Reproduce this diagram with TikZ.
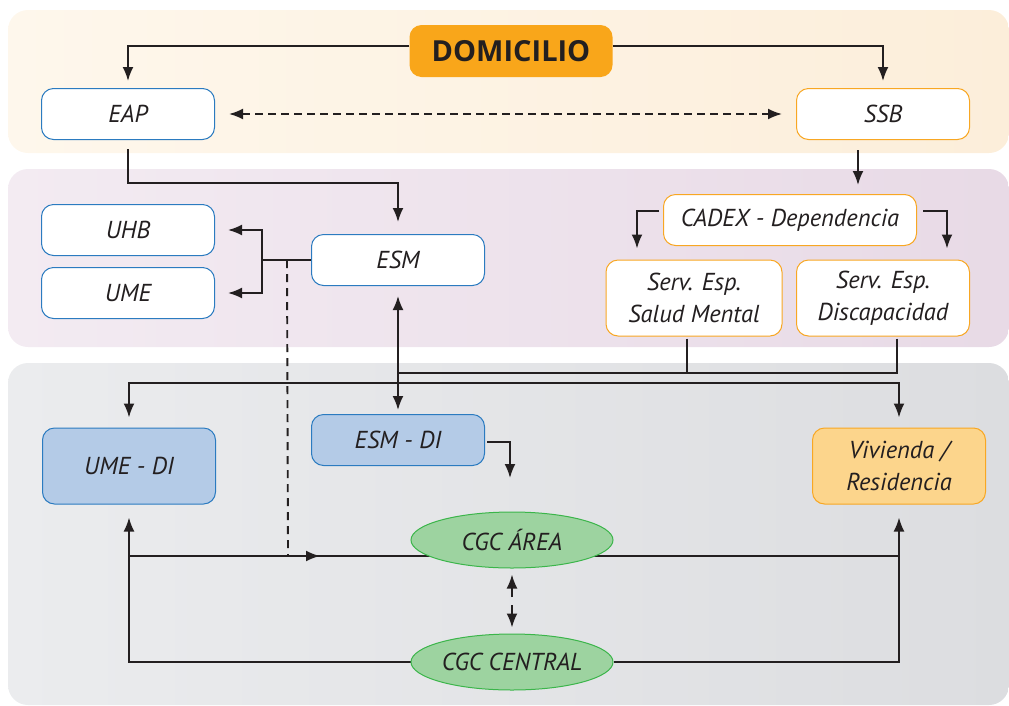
\documentclass[tikz,border=0pt]{standalone}
\usepackage{fontspec}
\setmainfont{PT Sans}
\newfontfamily\domifont{Open Sans}
\usepackage{xcolor}
\usetikzlibrary{arrows.meta, calc, backgrounds, shapes.geometric}

\definecolor{ink}{HTML}{231F20}
\definecolor{boxblue}{HTML}{2B7BC0}
\definecolor{fillblue}{HTML}{B4CBE7}
\definecolor{boxorange}{HTML}{F8A723}
\definecolor{fillorange}{HTML}{FCD58C}
\definecolor{domorange}{HTML}{F9A61A}
\definecolor{ellgreen}{HTML}{3BB54A}
\definecolor{fillgreen}{HTML}{9DD3A0}
\definecolor{bandtopl}{HTML}{FEF7EC}
\definecolor{bandtopr}{HTML}{FCEEDA}
\definecolor{bandmidl}{HTML}{F3EBF2}
\definecolor{bandmidr}{HTML}{E8DAE6}
\definecolor{bandbotl}{HTML}{EBECEE}
\definecolor{bandbotr}{HTML}{DCDDE0}

\tikzset{
    box/.style={draw=boxblue, fill=white, line width=1pt, rounded corners=12pt,
        minimum width=173pt, minimum height=51pt, inner sep=2pt, align=center,
        text=ink, font=\itshape\fontsize{24.5}{32}\selectfont},
    orangebox/.style={box, draw=boxorange},
    dibox/.style={box, fill=fillblue},
    domibox/.style={fill=domorange, rounded corners=12pt, minimum width=203pt,
        minimum height=52pt, text=ink, font=\domifont\bfseries\fontsize{29}{34}\selectfont},
    cgc/.style={ellipse, draw=ellgreen, fill=fillgreen, line width=1pt,
        minimum width=202pt, minimum height=56pt, inner sep=0pt, text=ink,
        font=\itshape\fontsize{24.5}{30}\selectfont},
    link/.style={draw=ink, line width=1.9pt},
    arr/.style={link, -{Latex[length=14pt,width=11pt]}},
    twoway/.style={link, {Latex[length=14pt,width=11pt]}-{Latex[length=14pt,width=11pt]}},
}

\begin{document}
\begin{tikzpicture}[x=1pt, y=-1pt]
    \useasboundingbox (0,0) rectangle (1009,705);
    \begin{scope}[on background layer]
        \shade[rounded corners=20pt, left color=bandtopl, right color=bandtopr] (8,10) rectangle (1009,153);
        \shade[rounded corners=20pt, left color=bandmidl, right color=bandmidr] (8,169) rectangle (1009,347);
        \shade[rounded corners=20pt, left color=bandbotl, right color=bandbotr] (8,363) rectangle (1009,705);
    \end{scope}

    \node[domibox] (domicilio) at (511,51) {DOMICILIO};
    \node[box] (eap) at (128,114) {EAP};
    \node[orangebox] (ssb) at (883,114) {SSB};
    \node[box] (uhb) at (128,230) {UHB};
    \node[box] (ume) at (128,293) {UME};
    \node[box] (esm) at (398,260) {ESM};
    \node[orangebox, minimum width=253pt] (cadex) at (790,220) {CADEX - Dependencia};
    \node[orangebox, minimum width=176pt, minimum height=76pt] (salud) at (694,298) {Serv. Esp.\\Salud Mental};
    \node[orangebox, minimum height=76pt] (discap) at (883,298) {Serv. Esp.\\Discapacidad};
    \node[dibox, minimum height=76pt] (umedi) at (129,466) {UME - DI};
    \node[dibox] (esmdi) at (398,440) {ESM - DI};
    \node[orangebox, fill=fillorange, minimum height=76pt] (vivienda) at (899,466) {Vivienda /\\Residencia};
    \node[cgc] (area) at (512,540) {CGC ÁREA};
    \node[cgc] (central) at (512,662) {CGC CENTRAL};

    \coordinate (busa) at (398,373);
    \coordinate (busb) at (398,383);
    \coordinate (dashend) at (288,556);
    \coordinate (arealine) at ([yshift=-16pt]area.center);

    \begin{scope}[on background layer]
        \draw[arr, shorten >=7pt] ($(domicilio.west)+(0,-5)$) -| (eap.north);
        \draw[arr, shorten >=7pt] ($(domicilio.east)+(0,-5)$) -| (ssb.north);
        \draw[twoway, dash pattern=on 8pt off 5pt, shorten <=14pt, shorten >=14pt] (eap.east) -- (ssb.west);
        \draw[arr, shorten <=9pt, shorten >=12pt] (eap.south) -- ++(0,43) -| (esm.north);
        \draw[arr, shorten <=10pt, shorten >=9pt] ([xshift=-25pt]ssb.south) -- ([xshift=68pt]cadex.north);
        \draw[arr, shorten <=4pt, shorten >=11pt] ([yshift=9pt]cadex.west) -| ([xshift=-57pt]salud.north);
        \draw[arr, shorten <=6pt, shorten >=11pt] ([yshift=9pt]cadex.east) -| ([xshift=64pt]discap.north);
        \draw[arr, shorten >=13pt] (esm.west) -- ++(-49,0) |- (uhb.east);
        \draw[arr, shorten >=13pt] (esm.west) -- ++(-49,0) |- (ume.east);
        \draw[link, dash pattern=on 8pt off 6pt] ($(esm.west)+(-24,0)$) -- (dashend);
        \draw[twoway, shorten <=10pt, shorten >=4pt] (esm.south) -- (esmdi.north);
        \draw[link, shorten <=2pt] ([xshift=-7pt]salud.south) |- (busa);
        \draw[link, shorten <=2pt] ([xshift=14pt]discap.south) |- (busa);
        \draw[arr, shorten >=10pt] (busb) -| (umedi.north);
        \draw[arr, shorten >=10pt] (busb) -| (vivienda.north);
        \draw[arr, shorten <=2pt] ([yshift=-2pt]esmdi.east) -- ++(25,0) -- ++(0,36);
        \draw[link] (umedi.south |- arealine) -- (vivienda.south |- arealine);
        \draw[arr] (dashend) -- ++(32,0);
        \draw[arr, shorten >=13pt] (central.west) -| (umedi.south);
        \draw[arr, shorten >=13pt] (central.east) -| (vivienda.south);
    \end{scope}
    \draw[arr, shorten >=6pt] ($(area.south)!0.5!(central.north)+(0,-4)$) -- (area.south);
    \draw[arr, shorten >=6pt] ($(area.south)!0.5!(central.north)+(0,4)$) -- (central.north);
\end{tikzpicture}
\end{document}
